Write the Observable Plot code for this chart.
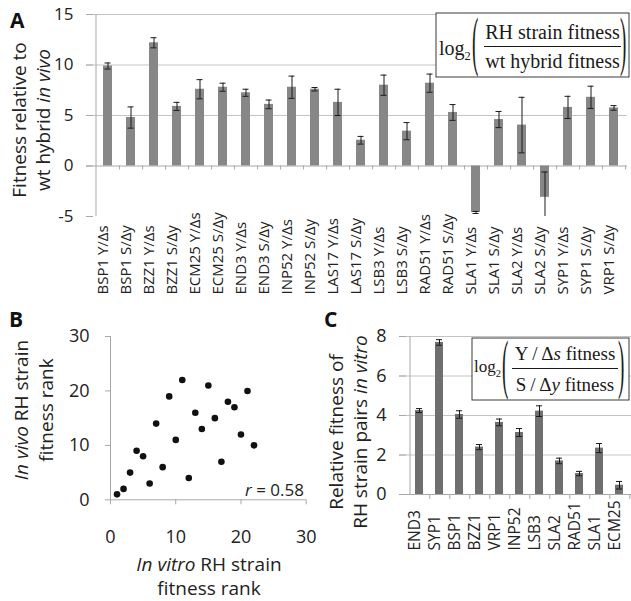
<!DOCTYPE html>
<html>
<head>
<meta charset="utf-8">
<script src="https://cdn.jsdelivr.net/npm/d3@7"></script>
<script src="https://cdn.jsdelivr.net/npm/@observablehq/plot@0.6"></script>
<style>
  html, body { margin: 0; padding: 0; background: #fff; }
  #wrap { position: relative; width: 631px; height: 601px; overflow: hidden; background: #fff; font-family: "Open Sans", sans-serif; }
  .panel { position: absolute; }
  #overlay { position: absolute; left: 0; top: 0; pointer-events: none; }
</style>
</head>
<body>
<div id="wrap">
  <div class="panel" id="pa" style="left:0;top:0"></div>
  <div class="panel" id="pb" style="left:0;top:320px"></div>
  <div class="panel" id="pc" style="left:320px;top:320px"></div>
</div>
<script>
// ---------- Panel A data ----------
const catsA = ["BSP1 Y/Δs","BSP1 S/Δy","BZZ1 Y/Δs","BZZ1 S/Δy","ECM25 Y/Δs","ECM25 S/Δy","END3 Y/Δs","END3 S/Δy","INP52 Y/Δs","INP52 S/Δy","LAS17 Y/Δs","LAS17 S/Δy","LSB3 Y/Δs","LSB3 S/Δy","RAD51 Y/Δs","RAD51 S/Δy","SLA1 Y/Δs","SLA1 S/Δy","SLA2 Y/Δs","SLA2 S/Δy","SYP1 Y/Δs","SYP1 S/Δy","VRP1 S/Δy"];
const valsA = [9.9, 4.8, 12.2, 5.9, 7.6, 7.8, 7.25, 6.1, 7.8, 7.6, 6.3, 2.55, 8.0, 3.45, 8.2, 5.3, -4.6, 4.6, 4.05, -3.1, 5.8, 6.8, 5.75];
const errA  = [0.3, 1.05, 0.5, 0.4, 0.95, 0.4, 0.35, 0.43, 1.1, 0.17, 1.3, 0.38, 1.0, 0.85, 0.9, 0.78, 0.1, 0.8, 2.75, 2.5, 1.1, 1.1, 0.23];
const ticksA = [-5, 0, 5, 10, 15];

// ---------- Panel B data ----------
const rankVitro = [1, 2, 3, 4, 5, 6, 7, 8, 9, 10, 11, 12, 13, 14, 15, 16, 17, 18, 19, 20, 21, 22];
const rankVivo  = [1, 2, 5, 9, 8, 3, 14, 6, 19, 11, 22, 4, 16, 13, 21, 15, 7, 18, 17, 12, 20, 10];
const ticksB = [0, 10, 20, 30];

// ---------- Panel C data ----------
const catsC = ["END3","SYP1","BSP1","BZZ1","VRP1","INP52","LSB3","SLA2","RAD51","SLA1","ECM25"];
const valsC = [4.25, 7.7, 4.05, 2.4, 3.65, 3.14, 4.22, 1.7, 1.06, 2.35, 0.47];
const errC  = [0.1, 0.14, 0.19, 0.13, 0.17, 0.2, 0.27, 0.14, 0.11, 0.23, 0.19];
const ticksC = [0, 2, 4, 6, 8];

const TXT = "#222";
const GRID = "#c4c4c4";
const AXIS = "#a8a8a8";
const fmt = d => String(d);
const baseStyle = {fontFamily: "'Open Sans', sans-serif", fontSize: "16px", color: TXT, background: "transparent", overflow: "visible"};

// ---------- Panel A ----------
{
  const W = 631, H = 300, mt = 14, mb = 84, ml = 93, mr = 4;
  const pIn = 0.612, pOut = 0.323;
  const yMin = ticksA[0];
  const band = d3.scaleBand().domain(catsA).range([ml, W - mr]).paddingInner(pIn).paddingOuter(pOut);
  const half = band.step() / 2, toLeft = band(catsA[0]) + band.bandwidth() / 2 - ml;
  const data = catsA.map((c, i) => ({c, v: valsA[i], lo: Math.max(yMin, valsA[i] - errA[i]), hi: valsA[i] + errA[i], clip: valsA[i] - errA[i] < yMin}));
  const chart = Plot.plot({
    width: W, height: H, marginTop: mt, marginBottom: mb, marginLeft: ml, marginRight: mr,
    style: baseStyle,
    x: {type: "band", domain: catsA, paddingInner: pIn, paddingOuter: pOut, axis: null},
    y: {domain: [ticksA[0], ticksA[ticksA.length - 1]], axis: null},
    marks: [
      Plot.ruleY(ticksA.filter(t => t > 0), {stroke: GRID, insetLeft: -7}),
      Plot.ruleY([0], {stroke: AXIS, insetLeft: -7}),
      Plot.axisY({ticks: ticksA, tickFormat: fmt, label: null, tickSize: 7, tickPadding: 13, stroke: AXIS, fill: TXT, fontSize: 17}),
      Plot.ruleX([catsA[0]], {dx: -toLeft, stroke: AXIS}),
      Plot.ruleX(catsA, {y1: 0, y2: 0, dx: half, insetBottom: -4, stroke: AXIS}),
      Plot.barY(data, {x: "c", y: "v", fill: "#878787"}),
      Plot.ruleX(data, {x: "c", y1: "lo", y2: "hi", stroke: "#1a1a1a", strokeWidth: 1}),
      Plot.tickY(data, {x: "c", y: "hi", stroke: "#1a1a1a", insetLeft: 1.5, insetRight: 1.5}),
      Plot.tickY(data.filter(d => !d.clip), {x: "c", y: "lo", stroke: "#1a1a1a", insetLeft: 1.5, insetRight: 1.5}),
      Plot.text(catsA, {x: d => d, frameAnchor: "bottom", dy: 78, rotate: -90, textAnchor: "start", fontSize: 15, fill: TXT})
    ]
  });
  document.getElementById("pa").appendChild(chart);
}

// ---------- Panel B ----------
{
  const W = 320, H = 281;
  const data = rankVitro.map((x, i) => ({x, y: rankVivo[i]}));
  const chart = Plot.plot({
    width: W, height: H, marginTop: 16, marginBottom: 101.7, marginLeft: 110, marginRight: 14.3,
    style: baseStyle,
    x: {domain: [0, 30], axis: null},
    y: {domain: [0, 30], axis: null},
    marks: [
      Plot.ruleX([0], {stroke: AXIS}),
      Plot.ruleY([0], {stroke: AXIS}),
      Plot.axisY({ticks: ticksB, tickFormat: fmt, label: null, tickSize: 5, tickPadding: 16, stroke: AXIS, fill: TXT, fontSize: 18}),
      Plot.axisX({ticks: ticksB, tickFormat: fmt, label: null, tickSize: 5, tickPadding: 25, stroke: AXIS, fill: TXT, fontSize: 18}),
      Plot.dot(data, {x: "x", y: "y", r: 3.3, fill: "#111", stroke: "none"})
    ]
  });
  document.getElementById("pb").appendChild(chart);
}

// ---------- Panel C ----------
{
  const W = 311, H = 281, mt = 16, mb = 107, ml = 86, mr = 0;
  const pIn = 0.612, pOut = 0.267;
  const band = d3.scaleBand().domain(catsC).range([ml, W - mr]).paddingInner(pIn).paddingOuter(pOut);
  const half = band.step() / 2, toLeft = band(catsC[0]) + band.bandwidth() / 2 - ml;
  const data = catsC.map((c, i) => ({c, v: valsC[i], lo: valsC[i] - errC[i], hi: valsC[i] + errC[i]}));
  const chart = Plot.plot({
    width: W, height: H, marginTop: mt, marginBottom: mb, marginLeft: ml, marginRight: mr,
    style: baseStyle,
    x: {type: "band", domain: catsC, paddingInner: pIn, paddingOuter: pOut, axis: null},
    y: {domain: [ticksC[0], ticksC[ticksC.length - 1]], axis: null},
    marks: [
      Plot.ruleY(ticksC.filter(t => t > 0), {stroke: GRID, insetLeft: -7}),
      Plot.ruleY([0], {stroke: AXIS, insetLeft: -7}),
      Plot.axisY({ticks: ticksC, tickFormat: fmt, label: null, tickSize: 7, tickPadding: 13, stroke: AXIS, fill: TXT, fontSize: 18}),
      Plot.ruleX([catsC[0]], {dx: -toLeft, stroke: AXIS}),
      Plot.ruleX(catsC, {y1: 0, y2: 0, dx: half, insetBottom: -5, stroke: AXIS}),
      Plot.barY(data, {x: "c", y: "v", fill: "#6f6f6f"}),
      Plot.ruleX(data, {x: "c", y1: "lo", y2: "hi", stroke: "#1a1a1a", strokeWidth: 1}),
      Plot.tickY(data, {x: "c", y: "hi", stroke: "#1a1a1a", insetLeft: 1, insetRight: 1}),
      Plot.tickY(data, {x: "c", y: "lo", stroke: "#1a1a1a", insetLeft: 1, insetRight: 1}),
      Plot.text(catsC, {x: d => d, frameAnchor: "bottom", dy: 56, rotate: -90, textAnchor: "start", fontSize: 15.5, fill: TXT})
    ]
  });
  document.getElementById("pc").appendChild(chart);
}

// ---------- Overlay: panel letters, axis titles, formula boxes ----------
{
  const svg = d3.select("#wrap").append("svg").attr("id", "overlay")
    .attr("width", 631).attr("height", 601)
    .style("font-family", "'Open Sans', sans-serif").attr("fill", TXT);

  [["A", 10, 28], ["B", 9, 327], ["C", 324, 327]].forEach(([t, x, y]) =>
    svg.append("text").attr("x", x).attr("y", y).attr("font-size", 21).attr("font-weight", "bold").attr("fill", "#111").text(t));

  function rotLabel(cx, cy, parts, size) {
    const t = svg.append("text").attr("transform", `translate(${cx},${cy}) rotate(-90)`)
      .attr("text-anchor", "middle").attr("font-size", size);
    parts.forEach(([s, it]) => t.append("tspan").attr("font-style", it ? "italic" : "normal").text(s));
    return t;
  }
  function label(x, y, parts, size) {
    const t = svg.append("text").attr("x", x).attr("y", y).attr("text-anchor", "middle").attr("font-size", size);
    parts.forEach(([s, it]) => t.append("tspan").attr("font-style", it ? "italic" : "normal").text(s));
    return t;
  }

  rotLabel(26, 120, [["Fitness relative to", false]], 19);
  rotLabel(50, 120, [["wt hybrid ", false], ["in vivo", true]], 19);
  rotLabel(28, 410, [["In vivo", true], [" RH strain", false]], 19);
  rotLabel(53, 410, [["fitness rank", false]], 19);
  label(209, 571, [["In vitro", true], [" RH strain", false]], 19);
  label(209, 595, [["fitness rank", false]], 19);
  svg.append("text").attr("x", 304).attr("y", 496).attr("text-anchor", "end").attr("font-size", 17)
    .call(t => { t.append("tspan").attr("font-style", "italic").text("r"); t.append("tspan").text(" = 0.58"); });
  rotLabel(343, 432, [["Relative fitness of", false]], 19);
  rotLabel(367, 432, [["RH strain pairs ", false], ["in vitro", true]], 19);

  const serif = "'Liberation Serif', 'Times New Roman', serif";
  function formula(o) {
    const g = svg.append("g").style("font-family", serif).attr("fill", "#1a1a1a");
    g.append("rect").attr("x", o.box[0]).attr("y", o.box[1]).attr("width", o.box[2]).attr("height", o.box[3])
      .attr("fill", "#fff").attr("stroke", "#3a3a3a").attr("stroke-width", 1);
    const lt = g.append("text").attr("x", o.logX).attr("y", o.logY).attr("font-size", o.logSize);
    lt.append("tspan").text("log");
    lt.append("tspan").attr("font-size", o.logSize * 0.62).attr("dy", 5).text("2");
    g.append("text").attr("transform", `translate(${o.parenL},${o.parenB}) scale(1,${o.parenS})`).attr("font-size", 19).text("(");
    g.append("text").attr("transform", `translate(${o.parenR},${o.parenB}) scale(1,${o.parenS})`).attr("font-size", 19).text(")");
    g.append("line").attr("x1", o.fx1).attr("x2", o.fx2).attr("y1", o.lineY).attr("y2", o.lineY).attr("stroke", "#1a1a1a").attr("stroke-width", 1.2);
    const cx = (o.fx1 + o.fx2) / 2;
    [[o.num, o.numY], [o.den, o.denY]].forEach(([parts, y]) => {
      const t = g.append("text").attr("x", cx).attr("y", y).attr("text-anchor", "middle").attr("font-size", o.size);
      parts.forEach(([s, it]) => t.append("tspan").attr("font-style", it ? "italic" : "normal").text(s));
    });
  }
  formula({box: [436, 13, 193, 64], logX: 439, logY: 55, logSize: 20, parenL: 472, parenR: 620, parenB: 63, parenS: 3.5,
    fx1: 484, fx2: 621, lineY: 46.5, numY: 39, denY: 68, size: 20,
    num: [["RH strain fitness", false]], den: [["wt hybrid fitness", false]]});
  formula({box: [472, 338, 157, 62], logX: 474, logY: 372, logSize: 17, parenL: 502, parenR: 618, parenB: 385.5, parenS: 3.4,
    fx1: 512, fx2: 618, lineY: 368.5, numY: 360, denY: 391, size: 19,
    num: [["Y\u2009/\u2009Δ", false], ["s", true], [" fitness", false]],
    den: [["S\u2009/\u2009Δ", false], ["y", true], [" fitness", false]]});
}
</script>
</body>
</html>
